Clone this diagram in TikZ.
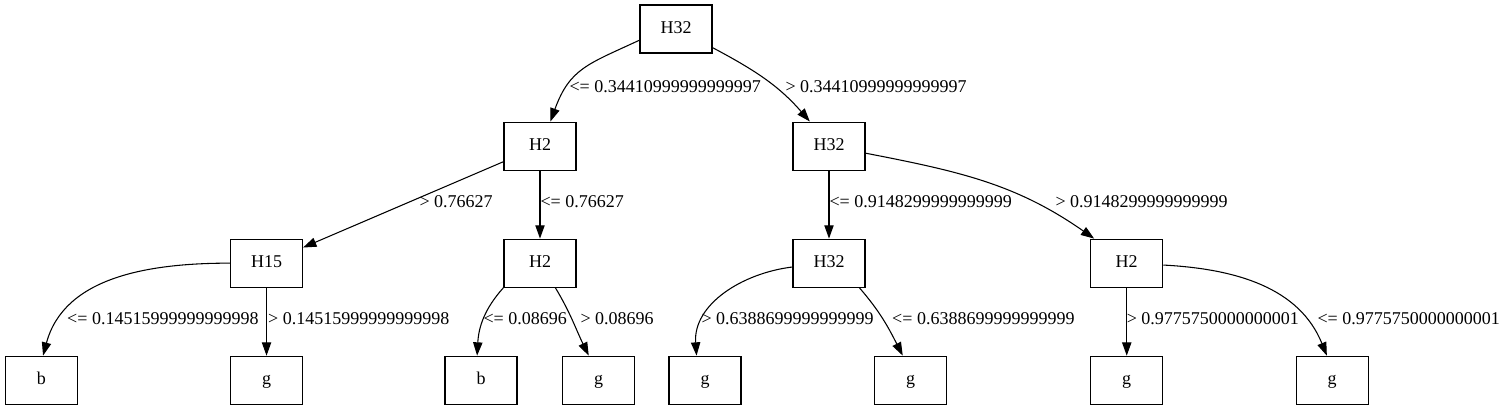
\documentclass[tikz,border=0pt]{standalone}
\usepackage{fontspec}
\setmainfont{Liberation Serif}
\usetikzlibrary{arrows.meta,positioning}

\begin{document}
\begin{tikzpicture}[x=0.75pt,y=0.75pt,node distance=51pt,thick,
    font=\fontsize{13.5}{16}\selectfont,>={Triangle[length=10pt,width=7pt]}]
	  \tikzstyle{split}=[rectangle,draw=black,minimum width=54pt,minimum height=36pt,inner sep=0pt,text height=0.662em,text depth=0pt]
	  \tikzstyle{cond}=[anchor=west,inner sep=0pt]
	  \tikzstyle{every edge}=[draw=black,->]

	  \useasboundingbox (0,0) rectangle (1507,-407);

	  \node[split] (R) at (676,-29) {H32};
	  \node[split] (A) [below=of R, xshift=-102pt] {H2};
	  \node[split] (B) [below=of R, xshift=114.75pt] {H32};

	  \node[split] (C) [below=of A, xshift=-205.1pt] {H15};
	  \node[split] (D) [below=of A] {H2};
	  \node[split] (E) [below=of B] {H32};
	  \node[split] (F) [below=of B, xshift=223.3pt] {H2};

	  \node[split] (C1) [below=of C, xshift=-168.9pt] {b};
	  \node[split] (C2) [below=of C] {g};
	  \node[split] (D1) [below=of D, xshift=-44.25pt] {b};
	  \node[split] (D2) [below=of D, xshift=44pt] {g};
	  \node[split] (E1) [below=of E, xshift=-93pt] {g};
	  \node[split] (E2) [below=of E, xshift=61.3pt] {g};
	  \node[split] (F1) [below=of F] {g};
	  \node[split] (F2) [below=of F, xshift=154pt] {g};

	  \path
	  (R.197) edge[out=205,in=70,looseness=1.2] (A.67)
	  (R.333) edge[out=332,in=131] (B.128)

	  (A) edge (C)
	  (A) edge (D)
	  (B) edge (E)
	  (B.349) edge[out=349,in=145] (F.143)

	  (C.west) edge[out=180,in=75] (C1.86)
	  (C) edge (C2)
	  (D.south west) edge[out=228,in=87] (D1.99)
	  (D.302) edge[out=301,in=116] (D2.112)
	  (E.186) edge[out=187,in=94] (E1.109)
	  (E.321) edge[out=311,in=117] (E2.108)
	  (F) edge (F1)
	  (F.357) edge[out=357,in=112] (F2.102)
	  ;

	  \node[cond] (l1) at (569,-87) {<= 0.34410999999999997};
	  \node[cond] (l2) at (785,-87) {> 0.34410999999999997};

	  \node[cond] (l3) at (419,-202) {> 0.76627};
	  \node[cond] (l4) at (540,-202) {<= 0.76627};
	  \node[cond] (l5) at (829,-202) {<= 0.9148299999999999};
	  \node[cond] (l6) at (1055,-202) {> 0.9148299999999999};

	  \node[cond] (l7) at (66.7,-319) {<= 0.14515999999999998};
	  \node[cond] (l8) at (267.7,-319) {> 0.14515999999999998};
	  \node[cond] (l9) at (483,-319) {<= 0.08696};
	  \node[cond] (l10) at (580,-319) {> 0.08696};
	  \node[cond] (l11) at (701,-319) {> 0.6388699999999999};
	  \node[cond] (l12) at (891.7,-319) {<= 0.6388699999999999};
	  \node[cond] (l13) at (1126.3,-319) {> 0.9775750000000001};
	  \node[cond] (l14) at (1317,-319) {<= 0.9775750000000001};
	\end{tikzpicture}
\end{document}
